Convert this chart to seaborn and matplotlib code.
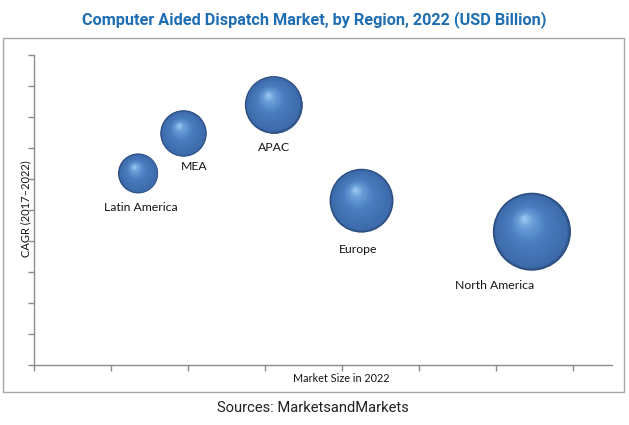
import numpy as np
import pandas as pd
import matplotlib
matplotlib.use("Agg")
import matplotlib.pyplot as plt
import matplotlib.transforms as mtransforms
from matplotlib.colors import LinearSegmentedColormap
from matplotlib.patches import Rectangle
import seaborn as sns

# values
regions = ["Latin America", "MEA", "APAC", "Europe", "North America"]
market_size = [1.35, 1.94, 3.11, 4.25, 6.46]
cagr = [6.18, 7.47, 8.39, 5.30, 4.30]
bubble_value = [0.40, 0.54, 0.83, 1.02, 1.52]

# label offsets from bubble centre (points)
label_offsets = [(1.9, -24.5), (7.6, -24.0), (0.4, -30.5), (-2.4, -34.8), (-27.1, -38.4)]

df = pd.DataFrame({"region": regions, "market_size": market_size,
                   "cagr": cagr, "bubble_value": bubble_value})

sns.set_style("white")
fig = plt.figure(figsize=(6.29, 4.25), dpi=100)
ax = fig.add_axes([34 / 629, 1 - 365 / 425, (612 - 34) / 629, (365 - 55) / 425])

max_s = 3154
vmax = max(bubble_value)
sns.scatterplot(data=df, x="market_size", y="cagr", size="bubble_value",
                sizes=(0, max_s), size_norm=(0, vmax), color="#2a4a7a",
                linewidth=0, legend=False, ax=ax, zorder=2)

# fake sphere shading: shrinking circles drifting toward a highlight
shade = LinearSegmentedColormap.from_list(
    "sphere", [(0, "#2a4a7a"), (0.07, "#3d6bac"), (0.55, "#4a7dbf"),
               (0.85, "#6b9fd9"), (1.0, "#93c3ee")])
k = max_s / vmax
steps = np.linspace(0, 1, 45)[1:]
for _, row in df.iterrows():
    r_pt = np.sqrt(k * row["bubble_value"]) / 2
    hx, hy = -0.2 * r_pt, 0.35 * r_pt
    for t in steps:
        tr = mtransforms.offset_copy(ax.transData, fig=fig, x=t * hx, y=t * hy, units="points")
        ax.scatter([row["market_size"]], [row["cagr"]], s=(2 * r_pt * (1 - 0.95 * t)) ** 2,
                   color=shade(t), linewidth=0, transform=tr, zorder=3)

for (_, row), (dx, dy) in zip(df.iterrows(), label_offsets):
    ax.annotate(row["region"], (row["market_size"], row["cagr"]), xytext=(dx, dy),
                textcoords="offset points", ha="center", va="center",
                fontsize=8.8, family="Lato", color="#151515")

ax.set_xlim(0, 7.5)
ax.set_ylim(0, 10)
ax.set_xticks(range(8))
ax.set_yticks(range(11))
ax.set_xticklabels([])
ax.set_yticklabels([])
ax.set_xlabel("")
ax.set_ylabel("")
ax.tick_params(axis="both", direction="out", length=4, width=1, color="#8a8a8a",
               bottom=True, left=True)
for side in ["top", "right"]:
    ax.spines[side].set_visible(False)
for side in ["left", "bottom"]:
    ax.spines[side].set_color("#8a8a8a")
    ax.spines[side].set_linewidth(1)

fig.patches.append(Rectangle((3 / 629, 1 - 392 / 425), (624 - 3) / 629, (392 - 38) / 425,
                             transform=fig.transFigure, fill=False, ec="#a6a6a6", lw=1))

fig.text(314 / 629, 1 - 20 / 425, "Computer Aided Dispatch Market, by Region, 2022 (USD Billion)",
         ha="center", va="center", fontsize=11.7, fontweight="bold",
         family="Roboto", color="#1f6db3")
fig.text(341 / 629, 1 - 378 / 425, "Market Size in 2022", ha="center", va="center",
         fontsize=7.8, family="Lato", color="#151515")
fig.text(26 / 629, 1 - 209 / 425, "CAGR (2017\u20132022)", ha="center", va="center",
         rotation=90, fontsize=8, family="Lato", color="#151515")
fig.text(313 / 629, 1 - 408 / 425, "Sources: MarketsandMarkets", ha="center", va="center",
         fontsize=10.6, family="Roboto", color="#222222")

fig.savefig("out.png", dpi=100)
plt.close(fig)
